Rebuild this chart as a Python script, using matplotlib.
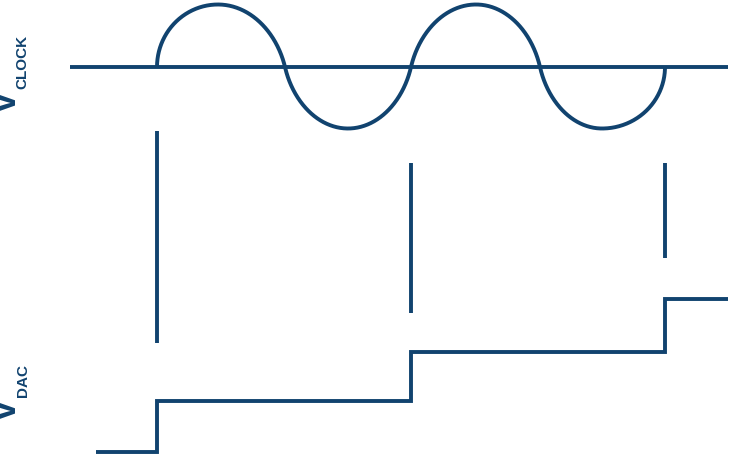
import numpy as np
import matplotlib
matplotlib.use("Agg")
import matplotlib.pyplot as plt

# Diagram geometry (pixel coordinates)
clock_baseline_y = 67
clock_axis_x = [70, 728]
clock_crossings = [157, 285, 411, 540, 665]   # zero crossings of the clock
clock_peaks_x = [218, 348, 476, 602]          # x of each lobe's extreme
clock_extremes_y = [4.5, 128.5, 4.5, 128.5]   # y of each lobe's extreme
clock_end_w = 1.0       # curvature blend at the outer ends (vertical)
clock_inner_w = 0.65    # curvature blend at inner crossings

marker_x = [157, 411, 665]
marker_top = [130.5, 163, 163]
marker_bottom = [343, 312.5, 258]

dac_x = [96, 157, 157, 411, 411, 665, 665, 728]
dac_y = [452, 452, 401, 401, 351.5, 351.5, 299, 299]

color = "#11436f"
lw = 2.8

fig = plt.figure(figsize=(7.30, 4.54), dpi=100)
ax = fig.add_axes([0, 0, 1, 1])
ax.set_xlim(0, 730)
ax.set_ylim(454, 0)
ax.axis("off")

# clock baseline
ax.plot(clock_axis_x, [clock_baseline_y] * 2, color=color, lw=lw,
        solid_capstyle="butt")

# clock waveform: each lobe built from two quarter arcs
phi = np.linspace(0, np.pi / 2, 200)
xs, ys = [], []
n = len(clock_peaks_x)
for i in range(n):
    a, b = clock_crossings[i], clock_crossings[i + 1]
    p = clock_peaks_x[i]
    amp = clock_extremes_y[i] - clock_baseline_y
    wl = clock_end_w if i == 0 else clock_inner_w
    wr = clock_end_w if i == n - 1 else clock_inner_w
    fl = wl * (1 - np.cos(phi)) + (1 - wl) * 2 * phi / np.pi
    fr = wr * (1 - np.cos(phi)) + (1 - wr) * 2 * phi / np.pi
    # rising quarter
    xs.append(a + (p - a) * fl)
    ys.append(clock_baseline_y + amp * np.sin(phi))
    # falling quarter (reverse)
    xs.append((b - (b - p) * fr)[::-1])
    ys.append((clock_baseline_y + amp * np.sin(phi))[::-1])
ax.plot(np.concatenate(xs), np.concatenate(ys), color=color, lw=lw,
        solid_capstyle="butt", solid_joinstyle="round")

# sampling markers
for x, t, bt in zip(marker_x, marker_top, marker_bottom):
    ax.plot([x, x], [t, bt], color=color, lw=lw, solid_capstyle="butt")

# DAC staircase
ax.plot(dac_x, dac_y, color=color, lw=lw, solid_capstyle="butt",
        solid_joinstyle="miter")

# labels
fam = ["Liberation Sans", "DejaVu Sans"]
ax.text(16, 114, "V", rotation=90, rotation_mode="anchor", ha="left",
        va="baseline", fontsize=26, fontweight="bold", color=color, family=fam)
ax.text(26.5, 89, "CLOCK", rotation=90, rotation_mode="anchor", ha="left",
        va="baseline", fontsize=11, fontweight="bold", color=color, family=fam)
ax.text(16, 422, "V", rotation=90, rotation_mode="anchor", ha="left",
        va="baseline", fontsize=26, fontweight="bold", color=color, family=fam)
ax.text(26.5, 397, "DAC", rotation=90, rotation_mode="anchor", ha="left",
        va="baseline", fontsize=11, fontweight="bold", color=color, family=fam)

fig.savefig("out.png", dpi=100)
